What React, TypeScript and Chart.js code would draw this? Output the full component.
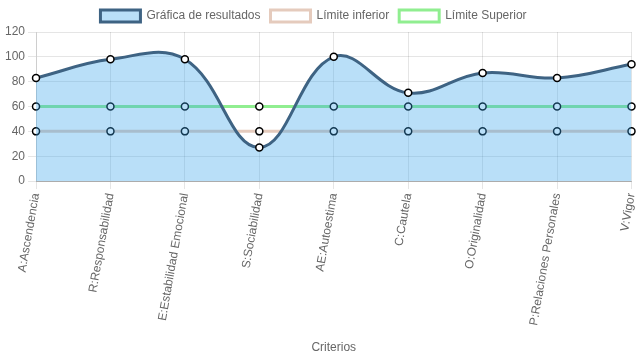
import React, { useEffect, useRef } from "react";
import { Chart, registerables } from "chart.js";

Chart.register(...registerables);

const categories = [
  "A:Ascendencia",
  "R:Responsabilidad",
  "E:Estabilidad Emocional",
  "S:Sociabilidad",
  "AE:Autoestima",
  "C:Cautela",
  "O:Originalidad",
  "P:Relaciones Personales",
  "V:Vigor",
];
const resultados = [83, 98, 98, 27, 100, 71, 87, 83, 94];
const limiteInferior = [40, 40, 40, 40, 40, 40, 40, 40, 40];
const limiteSuperior = [60, 60, 60, 60, 60, 60, 60, 60, 60];
const yTicks = [0, 20, 40, 60, 80, 100, 120];

const legendShift = {
  id: "legendShift",
  afterLayout(chart: any) {
    if (chart.legend) {
      chart.legend.left -= 6;
      chart.legend.right -= 6;
    }
  },
};

export default function App() {
  const ref = useRef<HTMLCanvasElement | null>(null);
  useEffect(() => {
    document.body.style.margin = "0";
    Chart.defaults.font.family = "'Liberation Sans', Arial, sans-serif";
    Chart.defaults.font.size = 12;
    Chart.defaults.color = "#666";
    const chart = new Chart(ref.current as HTMLCanvasElement, {
      type: "line",
      plugins: [legendShift],
      data: {
        labels: categories,
        datasets: [
          {
            label: "Gráfica de resultados",
            data: resultados,
            borderColor: "#3e6383",
            backgroundColor: "rgba(54,162,235,0.35)",
            borderWidth: 3,
            fill: "origin",
            tension: 0.4,
            pointBackgroundColor: "#fff",
            pointBorderColor: "#000",
            pointBorderWidth: 1.5,
            pointRadius: 3.5,
          },
          {
            label: "Límite inferior",
            data: limiteInferior,
            borderColor: "#e5cbbd",
            backgroundColor: "#fff",
            borderWidth: 3,
            fill: false,
            tension: 0.4,
            pointBackgroundColor: "#fff",
            pointBorderColor: "#000",
            pointBorderWidth: 1.5,
            pointRadius: 3.5,
          },
          {
            label: "Límite Superior",
            data: limiteSuperior,
            borderColor: "#90ee90",
            backgroundColor: "#fff",
            borderWidth: 3,
            fill: false,
            tension: 0.4,
            pointBackgroundColor: "#fff",
            pointBorderColor: "#000",
            pointBorderWidth: 1.5,
            pointRadius: 3.5,
          },
        ],
      },
      options: {
        animation: false,
        responsive: false,
        layout: { padding: { left: 2, right: 0, top: 0, bottom: 0 } },
        plugins: {
          legend: {
            position: "top",
            labels: { boxWidth: 40, boxHeight: 12, padding: 10 },
          },
          tooltip: { enabled: false },
        },
        scales: {
          x: {
            title: { display: true, text: "Criterios", padding: { top: 11, bottom: 4 } },
            ticks: { minRotation: 80, maxRotation: 80, autoSkip: false },
            grid: { color: "rgba(0,0,0,0.1)", tickLength: 8 },
            border: { color: "rgba(0,0,0,0.25)" },
            afterFit(scale: any) {
              scale.paddingRight = 4;
            },
          },
          y: {
            min: 0,
            max: 120,
            afterBuildTicks(scale: any) {
              scale.ticks = yTicks.map((v) => ({ value: v }));
            },
            grid: { color: "rgba(0,0,0,0.1)" },
          },
        },
      },
    });
    return () => chart.destroy();
  }, []);
  return (
    <div style={{ width: 637, height: 359 }}>
      <canvas ref={ref} width={637} height={359} />
    </div>
  );
}
